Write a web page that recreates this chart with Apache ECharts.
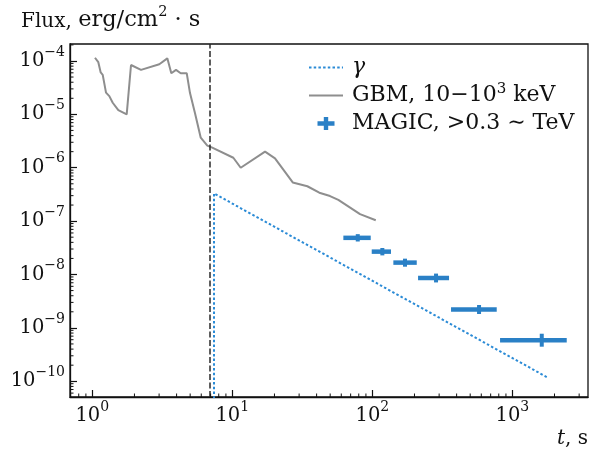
<!DOCTYPE html>
<html><head><meta charset="utf-8">
<script src="https://cdn.jsdelivr.net/npm/echarts@6/dist/echarts.min.js"></script>
<style>html,body{margin:0;padding:0;background:#fff}#c{width:603px;height:450px}</style>
</head><body><div id="c"></div>
<script>
const FONT = '"DejaVu Serif", "Liberation Serif", serif';

// GBM light curve (t in s, flux in erg/cm^2 s)
const gbmTime = [1.045, 1.104, 1.148, 1.187, 1.253, 1.323, 1.399, 1.534, 1.761, 1.890, 2.228, 3.010, 3.434, 3.667, 3.962, 4.280, 4.724, 4.987, 5.415, 5.949, 6.629, 7.127, 10.17, 11.48, 17.13, 20.18, 27.01, 34.34, 41.82, 49.87, 57.18, 81.69, 105.8];
const gbmFlux = [1.15e-4, 9.5e-5, 6.1e-5, 5.5e-5, 2.55e-5, 2.2e-5, 1.65e-5, 1.2e-5, 1.0e-5, 8.4e-5, 6.8e-5, 8.7e-5, 1.12e-4, 5.9e-5, 6.8e-5, 5.9e-5, 5.9e-5, 2.5e-5, 1.05e-5, 3.65e-6, 2.6e-6, 2.4e-6, 1.54e-6, 1.0e-6, 2.0e-6, 1.5e-6, 5.3e-7, 4.5e-7, 3.4e-7, 2.95e-7, 2.5e-7, 1.35e-7, 1.04e-7];

// gamma model curve
const gammaTime = [7.4, 7.4, 1760];
const gammaFlux = [1e-12, 3.3e-7, 1.2e-10];

// MAGIC points
const magicTime = [78.7, 117.9, 171.2, 285.1, 578.3, 1622];
const magicTimeLow = [62.1, 99.0, 141.3, 212.1, 364.8, 817];
const magicTimeHigh = [97.4, 136.0, 207.6, 353.1, 773.5, 2446];
const magicFlux = [4.86e-8, 2.68e-8, 1.67e-8, 8.6e-9, 2.21e-9, 5.87e-10];
const magicFluxLow = [4.15e-8, 2.28e-8, 1.40e-8, 7.1e-9, 1.82e-9, 4.44e-10];
const magicFluxHigh = [5.7e-8, 3.14e-8, 1.98e-8, 1.04e-8, 2.68e-9, 7.77e-10];

// trigger vertical line
const triggerTime = [6.93];

const xMin = 0.693, xMax = 3470, yMin = 5.07e-11, yMax = 2.08e-4;

const BLUE = '#2a80c6';
const BLUE_DOT = '#2b8bd6';
const GRAY = '#8e8e8e';

function powLabel(v) {
  const e = Math.log10(v), r = Math.round(e);
  if (Math.abs(e - r) > 1e-6) return '';
  return '{b|10}{s|' + (r < 0 ? '\u2212' + (-r) : r) + '}';
}
const labelRich = {
  b: {fontFamily: FONT, fontSize: 19.5, color: '#111', lineHeight: 32},
  s: {fontFamily: FONT, fontSize: 14, color: '#111', lineHeight: 14, verticalAlign: 'top'}
};

const chart = echarts.init(document.getElementById('c'), null, {renderer: 'canvas'});
const option = {
  animation: false,
  backgroundColor: '#fff',
  title: {
    text: '{a|Flux, }{m|erg/cm}{s|2}{m| · s}',
    left: 16, top: 0,
    textStyle: {
      fontFamily: FONT, fontSize: 20, fontWeight: 'normal', color: '#111',
      rich: {
        a: {fontFamily: FONT, fontSize: 20, color: '#111', lineHeight: 24, verticalAlign: 'bottom'},
        m: {fontFamily: FONT, fontSize: 22.5, color: '#111', lineHeight: 26.5, verticalAlign: 'bottom'},
        s: {fontFamily: FONT, fontSize: 14.5, color: '#111', lineHeight: 17, verticalAlign: 'top'}
      },
      lineHeight: 32
    }
  },
  grid: {left: 70, right: 15, top: 44, bottom: 53, show: true, borderColor: '#111', borderWidth: 1.3, backgroundColor: 'transparent'},
  legend: {
    orient: 'vertical', left: 303, top: 49, itemWidth: 34, itemHeight: 14, itemGap: 1,
    data: [
      {name: 'gamma', itemStyle: {opacity: 0}},
      {name: 'GBM', itemStyle: {opacity: 0}},
      {name: 'MAGIC', icon: 'path://M0,0M34,14M8.5,4.8L25.5,4.8L25.5,9.2L8.5,9.2ZM14.8,0.5L19.2,0.5L19.2,13.5L14.8,13.5Z', itemStyle: {color: BLUE}}
    ],
    formatter: function (n) {
      if (n === 'gamma') return '{i|γ}';
      if (n === 'GBM') return 'GBM, 10\u221210{s|3} keV';
      return 'MAGIC, >0.3 \u223C TeV';
    },
    textStyle: {
      fontFamily: FONT, fontSize: 22, color: '#111', lineHeight: 27, padding: [0, 0, 0, 4],
      rich: {
        i: {fontFamily: FONT, fontSize: 22, fontStyle: 'italic', color: '#111', lineHeight: 27},
        s: {fontFamily: FONT, fontSize: 15, color: '#111', lineHeight: 15, verticalAlign: 'top'}
      }
    }
  },
  xAxis: {
    type: 'log', logBase: 10, min: xMin, max: xMax,
    axisLine: {show: true, lineStyle: {color: '#111', width: 1.3}},
    axisTick: {show: true, inside: true, length: 7, lineStyle: {color: '#111', width: 1.2}},
    splitLine: {show: false},
    axisLabel: {formatter: powLabel, margin: 3, rich: labelRich, showMinLabel: false, showMaxLabel: false, hideOverlap: false}
  },
  yAxis: {
    type: 'log', logBase: 10, min: yMin, max: yMax,
    axisLine: {show: true, lineStyle: {color: '#111', width: 1.3}},
    axisTick: {show: true, inside: true, length: 7, lineStyle: {color: '#111', width: 1.2}},
    splitLine: {show: false},
    axisLabel: {formatter: powLabel, margin: 5, rich: labelRich, showMinLabel: false, showMaxLabel: false, hideOverlap: false}
  },
  series: [
    {
      name: 'gamma', type: 'line', symbol: 'none', z: 3,
      data: gammaTime.map((t, i) => [t, gammaFlux[i]]),
      lineStyle: {color: BLUE_DOT, width: 2, type: [2.5, 2.2]},
      itemStyle: {color: BLUE_DOT}
    },
    {
      name: 'GBM', type: 'line', symbol: 'none', z: 2,
      data: gbmTime.map((t, i) => [t, gbmFlux[i]]),
      lineStyle: {color: GRAY, width: 2},
      itemStyle: {color: GRAY},
      markLine: {
        silent: true, symbol: 'none', label: {show: false},
        lineStyle: {color: '#2a2a2a', width: 1.5, type: [6, 2.5]},
        data: triggerTime.map(t => ({xAxis: t}))
      }
    },
    {
      name: 'MAGIC', type: 'custom', z: 4,
      data: magicTime.map((t, i) => [t, magicFlux[i], magicTimeLow[i], magicTimeHigh[i], magicFluxLow[i], magicFluxHigh[i]]),
      encode: {x: [0, 2, 3], y: [1, 4, 5]},
      itemStyle: {color: BLUE},
      renderItem: function (params, api) {
        const l = api.coord([api.value(2), api.value(1)]);
        const r = api.coord([api.value(3), api.value(1)]);
        const lo = api.coord([api.value(0), api.value(4)]);
        const hi = api.coord([api.value(0), api.value(5)]);
        return {type: 'group', children: [
          {type: 'line', shape: {x1: l[0], y1: l[1], x2: r[0], y2: r[1]}, style: {stroke: BLUE, lineWidth: 4.5}},
          {type: 'line', shape: {x1: lo[0], y1: lo[1], x2: hi[0], y2: hi[1]}, style: {stroke: BLUE, lineWidth: 4}}
        ]};
      }
    }
  ]
};
chart.setOption(option);

// minor ticks (2..9 x 10^k), placed through the axes' own scales
const minorEls = [];
const yb = chart.convertToPixel({yAxisIndex: 0}, yMin);
const xl = chart.convertToPixel({xAxisIndex: 0}, xMin);
for (let e = -1; e <= 3; e++) {
  for (let m = 2; m <= 9; m++) {
    const v = m * Math.pow(10, e);
    if (v > xMin && v < xMax) {
      const px = chart.convertToPixel({xAxisIndex: 0}, v);
      minorEls.push({type: 'line', shape: {x1: px, y1: yb, x2: px, y2: yb - 3.5}, style: {stroke: '#111', lineWidth: 1}, z: 10});
    }
  }
}
for (let e = -11; e <= -4; e++) {
  for (let m = 2; m <= 9; m++) {
    const v = m * Math.pow(10, e);
    if (v > yMin && v < yMax) {
      const py = chart.convertToPixel({yAxisIndex: 0}, v);
      minorEls.push({type: 'line', shape: {x1: xl, y1: py, x2: xl + 3.5, y2: py}, style: {stroke: '#111', lineWidth: 1}, z: 10});
    }
  }
}
minorEls.push({
  type: 'text', right: 15, top: 429, z: 10,
  style: {text: '{i|t}, s', fontFamily: FONT, fontSize: 20, fill: '#111',
    rich: {i: {fontFamily: FONT, fontSize: 20, fontStyle: 'italic', fill: '#111'}}}
});
chart.setOption({graphic: minorEls});
</script></body></html>
